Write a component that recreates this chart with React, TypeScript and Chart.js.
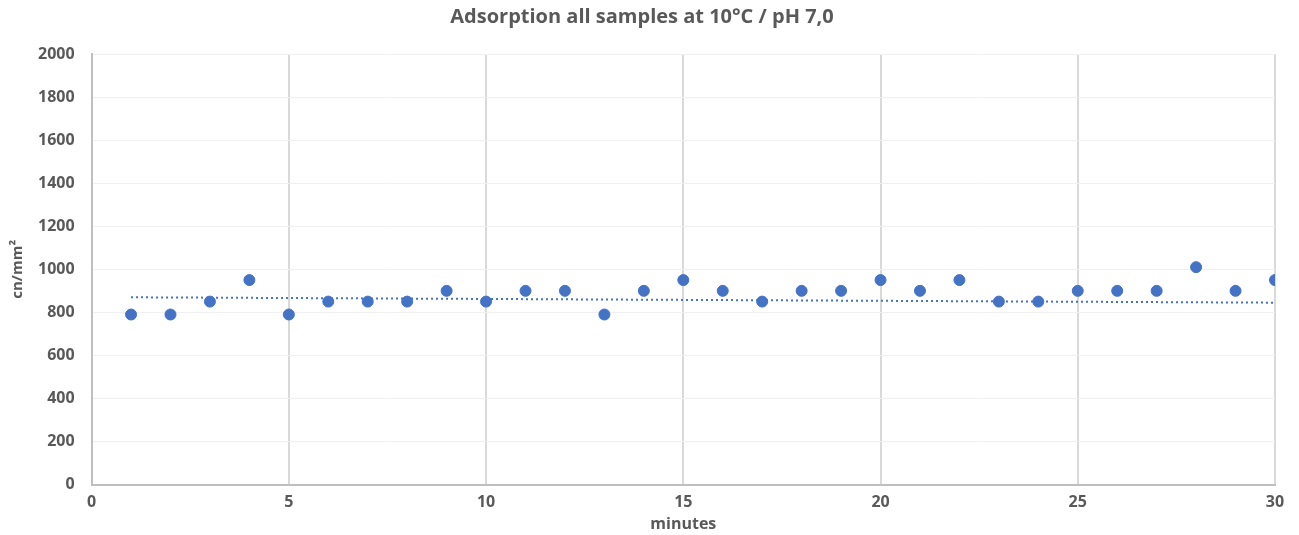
import React, { useEffect, useRef } from "react";
import { Chart, registerables } from "chart.js";

Chart.register(...registerables);

const minutes = [1,2,3,4,5,6,7,8,9,10,11,12,13,14,15,16,17,18,19,20,21,22,23,24,25,26,27,28,29,30];
const adsorption = [790,790,850,950,790,850,850,850,900,850,900,900,790,900,950,900,850,900,900,950,900,950,850,850,900,900,900,1010,900,950];
const trendX = [1, 30];
const trendY = [870, 845];

const TITLE = "Adsorption all samples at 10°C / pH 7,0";
const FONT = "'Open Sans', 'Noto Sans', sans-serif";
const GREY = "#595959";

export default function App() {
  const ref = useRef<HTMLCanvasElement | null>(null);
  useEffect(() => {
    if (!ref.current) return;
    const chart = new Chart(ref.current, {
      type: "scatter",
      data: {
        datasets: [
          {
            label: "samples",
            data: minutes.map((m, i) => ({ x: m, y: adsorption[i] })),
            backgroundColor: "#4472C4",
            borderColor: "#4472C4",
            pointRadius: 5.5,
            pointHoverRadius: 5.5,
            order: 1,
          },
          {
            label: "trend",
            type: "line",
            data: trendX.map((m, i) => ({ x: m, y: trendY[i] })),
            borderColor: "#4472C4",
            borderWidth: 2,
            borderDash: [2, 3],
            pointRadius: 0,
            fill: false,
            order: 2,
          } as any,
        ],
      },
      options: {
        animation: false,
        responsive: false,
        maintainAspectRatio: false,
        layout: { padding: { left: 9, right: 24, top: 5, bottom: 1 } },
        plugins: {
          legend: { display: false },
          tooltip: { enabled: false },
          title: {
            display: true,
            text: TITLE,
            color: GREY,
            font: { family: FONT, size: 20, weight: "bold" },
            padding: { top: 0, bottom: 25 },
          },
        },
        scales: {
          x: {
            type: "linear",
            min: 0,
            max: 30,
            ticks: { stepSize: 5, color: GREY, font: { family: FONT, size: 16, weight: "bold" }, padding: 8 },
            grid: { color: "#d9d9d9", lineWidth: 2, drawTicks: false },
            border: { color: "#bfbfbf", width: 2 },
            title: {
              display: true,
              text: "minutes",
              color: GREY,
              font: { family: FONT, size: 16, weight: "bold" },
              padding: { top: -5, bottom: 0 },
            },
          },
          y: {
            min: 0,
            max: 2000,
            ticks: {
              stepSize: 200,
              color: GREY,
              font: { family: FONT, size: 16, weight: "bold" },
              padding: 17,
              callback: (v: any) => String(v),
            },
            grid: { color: "#f0f0f0", lineWidth: 1, drawTicks: false },
            border: { color: "#bfbfbf", width: 2 },
            title: {
              display: true,
              text: "cn/mm²",
              color: GREY,
              font: { family: FONT, size: 15, weight: "bold" },
              padding: { top: 0, bottom: -6 },
            },
          },
        },
      },
    });
    return () => chart.destroy();
  }, []);
  return (
    <div style={{ position: "fixed", left: 0, top: 0, width: 1299, height: 535, background: "#fff" }}>
      <canvas ref={ref} width={1299} height={535} style={{ width: 1299, height: 535 }} />
    </div>
  );
}
